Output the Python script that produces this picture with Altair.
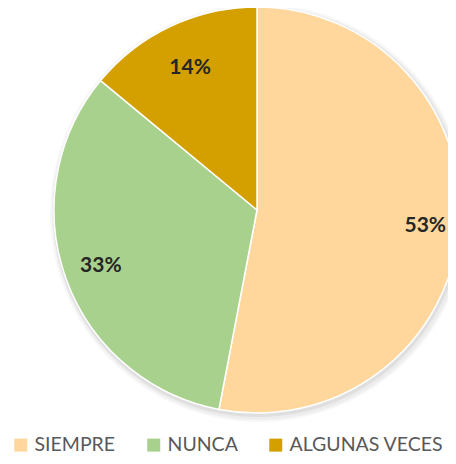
import altair as alt
import pandas as pd

categories = ["SIEMPRE", "NUNCA", "ALGUNAS VECES"]
values = [53, 33, 14]
labels = ["53%", "33%", "14%"]
colors = ["#FFD79C", "#A9D18E", "#D4A000"]

df = pd.DataFrame({"cat": categories, "val": values, "lab": labels, "order": [0, 1, 2]})
shadow_df = pd.DataFrame({"val": [1]})

cx, cy = 249, 202
R = 203
label_radius = {"SIEMPRE": 169, "NUNCA": 166, "ALGUNAS VECES": 157}

# soft shadow behind the pie
shadows = []
for dr, dx, dy, op in [(6, 2, 3, 0.03), (4, 2, 3, 0.04), (2, 1, 2, 0.06)]:
    shadows.append(
        alt.Chart(shadow_df)
        .mark_arc(radius=R + dr, color="#000000", opacity=op)
        .encode(theta=alt.Theta("val:Q"), x=alt.value(cx + dx), y=alt.value(cy + dy))
    )

pie = (
    alt.Chart(df)
    .mark_arc(radius=R, stroke="white", strokeWidth=1.5)
    .encode(
        theta=alt.Theta("val:Q", stack=True),
        order=alt.Order("order:Q"),
        x=alt.value(cx),
        y=alt.value(cy),
        color=alt.Color(
            "cat:N",
            sort=categories,
            scale=alt.Scale(domain=categories, range=colors),
            legend=alt.Legend(
                title=None,
                orient="none",
                direction="horizontal",
                legendX=3,
                legendY=427,
                symbolType="square",
                symbolSize=169,
                symbolStrokeWidth=0,
                labelFont="Lato",
                labelFontSize=19.5,
                labelColor="#595959",
                labelOffset=4,
                columnPadding=28,
            ),
        ),
    )
)

text_base = (
    alt.Chart(df)
    .transform_window(cum="sum(val)", sort=[alt.SortField("order")])
    .transform_joinaggregate(total="sum(val)")
    .transform_calculate(mid="(datum.cum - datum.val / 2) / datum.total")
)

texts = []
for cat in categories:
    texts.append(
        text_base.transform_filter(alt.datum.cat == cat)
        .mark_text(radius=label_radius[cat], font="Lato", fontWeight="bold", fontSize=21, color="#262626")
        .encode(
            theta=alt.Theta("mid:Q", scale=alt.Scale(domain=[0, 1], range=[0, 6.283185307])),
            x=alt.value(cx),
            y=alt.value(cy),
            text="lab:N",
        )
    )

chart = (
    alt.layer(*shadows, pie, *texts)
    .resolve_scale(theta="independent")
    .properties(width=440, height=448, autosize=alt.AutoSizeParams(type="none"), padding=0)
    .configure_view(stroke=None)
)

chart.save("out.html", embed_options={"renderer": "svg", "actions": False})
